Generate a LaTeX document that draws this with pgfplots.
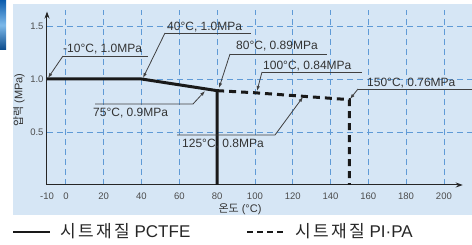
\documentclass[border=0pt]{standalone}
\usepackage{fontspec}
\setmainfont{Liberation Sans}
\newfontfamily\kr{Noto Sans CJK KR}
\usepackage{pgfplots}
\pgfplotsset{compat=1.18}
\usetikzlibrary{arrows.meta}
\definecolor{bgblue}{HTML}{D6E6F5}
\definecolor{gridblue}{HTML}{5F9AD6}
\definecolor{txt}{HTML}{333333}
\definecolor{barA}{HTML}{0B5CAD}
\definecolor{barB}{HTML}{7DB9EA}
\begin{document}
\begin{tikzpicture}
\useasboundingbox (0,0) rectangle (472pt,245pt);
\fill[bgblue] (13pt,30pt) rectangle (472pt,241pt);
\shade[top color=barA, bottom color=barA!80!black, middle color=barB] (0pt,195pt) rectangle (6pt,245pt);
\begin{axis}[
  at={(47pt,60pt)}, anchor=south west,
  x=1.89pt, y=106pt,
  xmin=-10, xmax=215, ymin=0, ymax=1.655,
  axis lines=left,
  axis line style={line width=1pt, color=black!85, -{Stealth[length=7pt,width=5pt]}},
  x axis line style={shorten >=9.5pt},
  y axis line style={shorten >=2pt},
  xtick={0,20,...,200}, extra x ticks={-10}, extra x tick style={grid=none},
  ytick={0.5,1,1.5}, yticklabels={0.5,1.0,1.5},
  major tick length=0pt,
  grid=major,
  grid style={gridblue, line width=0.8pt, dash pattern=on 6pt off 4pt},
  /pgf/number format/assume math mode=true,
  ticklabel style={font=\fontsize{9.5}{10}\selectfont, text=black!70},
  xticklabel style={anchor=base, yshift=-14.5pt},
  clip=false,
]
\addplot[line width=3pt, color=black!90, line join=miter] coordinates {(-10,1.0) (40,1.0) (80,0.89) (80,0)};
\addplot[line width=3pt, color=black!90, dash pattern=on 7pt off 5pt] coordinates {(80,0.89) (100,0.87) (150,0.805) (150,0)};
\end{axis}
\begin{scope}[shift={(0pt,245pt)}, x=1pt, y=-1pt]
  \tikzset{ann/.style={font=\fontsize{12}{12}\selectfont, text=txt, inner sep=0pt, anchor=base west},
           ld/.style={draw=black!75, line width=0.8pt},
           arr/.style={ld, -{Latex[length=5pt,width=3.5pt]}}}
  % -10
  \node[ann] at (63,53) {-10°C, 1.0MPa};
  \draw[ld] (63,56) -- (148,56);
  \draw[arr] (63,56) -- (48,78);
  % 40
  \node[ann] at (167,31) {40°C, 1.0MPa};
  \draw[ld] (165,33) -- (251,33);
  \draw[arr] (165,33) -- (143,78);
  % 75
  \node[ann] at (93,117) {75°C, 0.9MPa};
  \draw[arr] (95,104) -- (193,104) -- (205,91);
  % 80
  \node[ann] at (236,50) {80°C, 0.89MPa};
  \draw[ld] (230,54) -- (327,54);
  \draw[arr] (230,54) -- (219,88);
  % 100
  \node[ann] at (263,70) {100°C, 0.84MPa};
  \draw[ld] (262,72) -- (362,72);
  \draw[arr] (262,72) -- (257,91);
  % 150
  \node[ann] at (367,87) {150°C, 0.76MPa};
  \draw[ld] (358,89) -- (472,89);
  \draw[arr] (358,89) -- (350,99);
  % 125
  \node[ann] at (182,148) {125°C, 0.8MPa};
  \draw[arr] (177,135) -- (275,135) -- (303,97);
  % axis labels
  \node[font=\fontsize{11}{11}\selectfont, text=txt, rotate=90] at (19,100) {{\kr 압력} (MPa)};
  \node[font=\fontsize{11}{11}\selectfont, text=txt, inner sep=0pt] at (240,209) {{\kr 온도} (°C)};
  % legend
  \draw[line width=2.5pt, black!90] (13,232) -- (50,232);
  \node[font=\fontsize{17}{17}\selectfont, text=black!85, inner sep=0pt, anchor=base west] at (60,238) {{\kr\addfontfeature{LetterSpace=14}시트재질} PCTFE};
  \draw[line width=2.5pt, black!90, dash pattern=on 6pt off 4pt] (247,232) -- (286,232);
  \node[font=\fontsize{17}{17}\selectfont, text=black!85, inner sep=0pt, anchor=base west] at (295,238) {{\kr\addfontfeature{LetterSpace=14}시트재질} PI·PA};
\end{scope}
\end{tikzpicture}
\end{document}
